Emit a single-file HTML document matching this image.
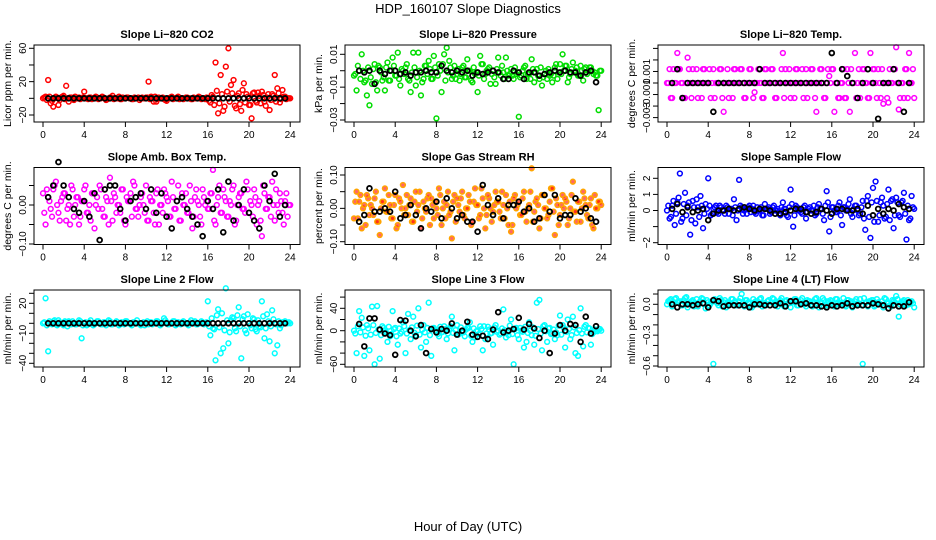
<!DOCTYPE html>
<html><head><meta charset="utf-8"><style>
html,body{margin:0;padding:0;background:#fff}
svg{display:block;font-family:"Liberation Sans",sans-serif}
</style></head><body>
<svg id="chart" width="936" height="540" viewBox="0 0 936 540">
<text x="468" y="13" text-anchor="middle" font-size="13">HDP_160107  Slope Diagnostics</text>
<text x="468" y="531" text-anchor="middle" font-size="13">Hour of Day (UTC)</text>
</svg>
<script>
// x categories: colored series every 0.25 h from 0; band series every 0.25 h from 0.125; black every 0.5 h from 0.5
const xTicks = [0,4,8,12,16,20,24];
const colorStep = 0.25, bandStart = 0.125, blackStart = 0.5, blackStep = 0.5;

const co2Color = [0,2,22,-6,-10,2,-8,1,3,15,-4,1,-2,0,1,0,8,0,1,-1,0,1,0,2,0,-1,1,3,0,0,-1,1,0,1,0,-1,0,1,0,0,1,20,2,-4,-4,1,0,-1,-3,0,2,0,1,-1,0,0,1,0,-1,0,0,1,0,-1,0,-5,2,43,-18,28,-15,38,60,16,22,-12,6,-15,18,5,-8,-24,7,-5,3,8,-4,1,-14,5,28,12,-5,10,2,0,0];
const co2Band = [1,-2,2,-3,0,1,-2,2,-1,0,1,-1,2,0,-1,1,0,-1,1,0,2,-1,0,1,-2,0,1,-1,0,2,-1,0,1,0,-1,1,0,-2,1,0,1,-1,0,2,-1,0,1,-2,0,1,-1,0,2,0,-1,1,0,-1,1,0,2,-1,0,1,-3,4,-8,9,-6,5,-10,8,-4,6,-9,3,-7,10,-5,2,-8,6,-3,7,-6,4,-9,5,-2,3,-4,6,-1,2,-1,0];
const co2Black = [0,0,0,0,0,0,0,0,0,0,0,0,0,0,0,0,0,0,0,0,0,0,0,0,0,0,0,0,0,0,0,0,0,0,0,0,0,0,0,0,0,0,0,0,0,0,0];
const presColor = [-3,-12,0,10,-7,-15,-21,-8,4,-12,2,-6,-12,5,-6,8,-3,11,-9,0,2,-5,-13,11,-9,11,-15,-5,3,6,-5,9,-29,4,-13,10,14,6,-5,3,-2,-6,2,-4,7,0,-7,-2,-13,9,4,-2,1,-8,0,-8,8,-3,-1,8,-3,1,-5,-2,-28,-3,2,-5,-2,7,-7,1,-5,-9,-2,-5,-3,-7,2,-5,4,10,3,-7,-2,5,0,-3,3,-6,2,0,2,-2,-3,-24,0];
const presBand = [-2,3,-5,0,-6,2,-4,1,-7,3,-1,-4,2,-6,0,3,-3,-5,1,-2,4,-6,-1,2,-4,0,-7,3,-2,1,-5,2,-3,0,4,-6,-1,2,-3,-5,1,-2,3,-4,0,-6,2,-1,-3,4,-5,0,2,-2,-4,1,-1,3,-5,0,-2,-3,2,-1,-4,0,3,-2,-5,1,-1,-3,2,-4,0,1,-2,-3,4,-1,-2,0,3,-4,1,-1,2,-3,0,1,-2,2,0,-1,-3,0];
const presBlack = [0,-1,0,-8,0,-2,0,0,-2,-1,-3,-1,-1,0,-1,-1,3,0,-1,0,-1,0,-3,-1,-2,-1,0,-1,-5,-5,0,-1,-5,-1,-1,-3,-2,-1,0,-1,0,-1,-1,-3,-1,0,-7];
const tempColor = [0,1.2,-1.3,0,2.6,1.2,0,-1.3,2.2,0,1.2,0,-1.3,0,1.2,0,0,-1.3,1.2,0,0,1.2,-2.5,0,-1.3,0,1.2,0,0,1.2,-1.3,0,1.2,0,-0.8,0,0,-1.3,1.2,0,0,1.2,-1.3,0,0,2.6,1.2,0,-1.3,0,1.2,0,0,-1.3,1.2,0,1.2,0,-2.5,0,1.2,-1.3,0,0.6,1.2,-2.5,0,-1.3,0,-1.3,1.2,-2.5,0,2.6,0,-1.3,1.2,0,-1.3,2.6,1.2,0,1.2,-1.3,-1.8,0,-1.7,0,1.2,3.1,-2.3,0,-1.3,1.2,2.6,0,-1.3];
const tempBand = [0,-1.3,1.2,0,1.2,0,-1.3,0,1.2,-1.3,0,1.2,0,-1.3,1.2,0,1.2,0,-1.3,0,1.2,-1.3,0,1.2,0,-1.3,1.2,0,1.2,0,-1.3,0,1.2,-1.3,0,1.2,0,-1.3,1.2,0,1.2,0,-1.3,0,1.2,-1.3,0,1.2,0,-1.3,1.2,0,1.2,0,-1.3,0,1.2,-1.3,0,1.2,0,-1.3,1.2,0,1.2,0,-1.3,0,1.2,-1.3,0,1.2,0,-1.3,1.2,0,1.2,0,-1.3,0,1.2,-1.3,0,1.2,0,-1.3,1.2,0,1.2,0,-1.3,0,1.2,-1.3,0,1.2];
const tempBlack = [0,1.2,-1.3,0,0,0,0,0,-2.5,0,0,0,0,0,0,0,0,1.2,0,0,0,0,0,0,0,0,0,0,0,0,0,2.6,0,1.2,0.6,0,-1.3,0,1.2,0,-3.1,0,0,1.2,0,-2.5,0];
const boxColor = [3,-5,2,-1,4,6,-2,1,3,-4,0,5,-3,2,-5,1,4,-2,0,3,-6,2,5,-1,-3,1,7,-4,2,0,-2,4,-5,1,3,6,-1,-3,2,0,5,-4,1,-2,3,-5,0,4,2,-3,6,-1,1,-4,3,0,-2,5,-6,2,1,-3,4,0,-1,3,9,-5,2,-2,4,1,-3,0,5,-4,2,3,-1,6,-2,0,4,-5,1,-8,3,-1,2,6,-4,0,3,-2,1,-3,0];
const boxBand = [-2,4,1,-3,5,0,-4,2,3,-1,-5,4,0,2,-3,1,5,-2,-4,3,0,-1,4,-3,2,-5,1,3,-2,0,4,-4,2,1,-3,5,-1,0,3,-2,-4,2,1,-5,4,0,-2,3,1,-3,2,-1,5,-4,0,3,-2,1,-3,4,0,-5,2,1,-1,3,-4,0,5,-2,2,-3,1,4,-5,0,3,-1,-2,4,1,-3,2,0,-4,5,-1,2,-3,0,4,-2,1,-5,3,0];
const boxBlack = [2,5,11,5,2,-1,-2,1,-3,3,-9,4,5,5,-1,-4,1,2,3,-1,4,-2,3,-3,-6,1,2,-1,-3,-5,-8,1,-1,4,-7,6,-4,0,4,-2,-4,-6,5,1,8,-3,0];
const rhColor = [-3,5,2,-6,1,4,-2,0,3,-4,-8,2,6,-1,1,-3,4,-5,2,7,0,-2,3,-4,5,1,-6,2,-1,4,3,-3,0,6,-5,2,1,-2,-9,4,3,-1,5,-3,0,2,-4,6,1,-2,3,-6,4,0,-1,5,2,-3,1,4,-5,-7,3,0,2,-2,5,-4,1,12,-1,3,-6,4,0,-3,2,6,-8,1,-2,4,3,-5,0,8,-1,2,-4,5,1,-3,3,-6,0,2,1];
const rhBand = [2,-3,4,0,-5,3,1,-2,5,-4,0,2,-1,4,-3,1,-6,3,0,-2,4,1,-4,2,-1,5,-3,0,3,-5,1,2,-2,4,0,-3,5,-1,2,-4,1,3,-2,0,4,-5,2,1,-3,6,0,-2,3,-4,1,2,-1,5,-3,0,2,-5,4,1,-2,3,-1,0,5,-4,2,1,-3,4,0,-2,6,-1,3,-5,1,0,2,-3,4,-1,-4,2,0,3,-2,1,-5,4,0,2];
const rhBlack = [-4,-2,6,-1,-1,0,-1,5,-3,-2,1,-2,-6,0,-1,2,-3,3,0,-3,-2,-4,-4,-7,7,1,-2,3,-3,1,1,2,-1,0,-4,-3,4,-1,4,-3,-2,-2,3,-1,0,-3,-4];
const flowColor = [0,-0.5,0.3,-0.9,0.5,2.3,-0.5,1.1,0.3,-1.5,0.6,-0.8,0.2,0.9,-1.1,0.4,2.0,-0.3,0.1,0.3,-0.2,0.2,0,0.3,-0.2,0.1,0.7,-0.6,1.9,0.2,0,-0.2,0.3,0.1,-0.1,0.2,0,-0.3,0.4,0.1,-0.2,0.2,0,0.1,-0.3,0.5,0.1,-0.4,1.3,-1.0,0.3,0,-0.1,0.2,-0.5,0.1,0,0.3,-0.2,0.4,0.1,-0.6,1.2,-1.3,0.2,0,-0.1,0.5,-0.9,0.2,0.1,0.7,-0.4,0.3,0,-0.2,0.6,-1.2,0.9,-1.7,1.4,1.8,-0.7,0.5,0.3,-0.4,1.3,0.6,-1.1,0.8,-0.3,0.5,1.1,-1.8,-0.6,0.9,0.1];
const flowBand = [0.3,-0.4,0.6,-0.2,0.8,-0.7,0.4,-0.3,0.5,-0.6,0.2,0.7,-0.4,0.3,-0.2,0.1,0.3,-0.2,0.2,-0.1,0.3,0,-0.2,0.2,0.1,-0.3,0.2,0,0.3,-0.2,0.1,0.2,-0.1,0.3,-0.2,0,0.2,-0.3,0.1,0.2,-0.1,0.3,0,-0.2,0.2,0.1,-0.3,0.2,0.4,-0.3,0.2,0,-0.2,0.3,-0.1,0.2,0,-0.3,0.2,0.1,-0.2,0.3,0.5,-0.4,0.2,-0.1,0.3,-0.3,0.2,0,0.4,-0.2,0.1,0.3,-0.3,0.2,-0.5,0.6,-0.4,0.5,-0.7,0.6,-0.3,0.8,-0.5,0.4,-0.6,0.7,-0.3,0.5,-0.4,0.6,-0.2,0.3,-0.5,0.2];
const flowBlack = [0.1,0.4,-0.1,0.2,-0.1,0,0.1,-0.6,-0.2,0,0,0.1,0,0.1,0.2,0.1,0,0.1,0.1,0,-0.2,-0.2,-0.1,0,0.1,0.1,-0.1,-0.2,-0.1,0.1,0,-0.2,0.1,0.1,0,0,0.1,-0.2,0.3,-0.3,0.1,-0.2,0.1,0,0.4,0.2,0.1];
const line2Color = [0,25,-28,0,2,-1,3,0,-2,1,2,-1,0,-1,3,-15,0,-2,1,0,-1,2,0,-1,1,0,2,-1,0,1,-1,0,2,0,-1,1,0,0,-2,1,0,-1,1,0,2,0,-1,5,1,-1,0,2,-1,0,1,0,-1,1,0,2,-1,0,1,0,22,-12,-5,-37,14,-30,-25,35,-20,3,5,-8,16,-35,7,-10,0,-5,4,-8,-3,22,-15,9,-18,13,-30,-22,-5,1,2,0,0];
const line2Band = [1,-2,2,-1,3,-2,1,-1,2,-3,1,2,-1,0,2,-2,1,-1,3,-2,0,2,-1,1,-2,3,-1,0,2,-2,1,-1,2,0,-2,1,3,-1,0,-2,2,1,-1,0,2,-2,1,3,-1,0,2,-2,1,-1,2,0,-2,3,1,-1,0,2,-1,1,-3,5,-6,8,-4,10,-7,3,-9,6,-5,8,-3,4,-7,9,-2,5,-6,3,-4,7,-5,2,-3,4,-1,2,-2,1,0,1];
const line2Black = [0,0,0,0,0,0,0,0,0,0,0,0,0,0,0,0,0,0,0,0,0,0,0,0,0,0,0,0,0,0,0,0,0,0,0,0,0,0,0,0,0,0,0,0,0,0,0];
const line3Color = [0,-40,35,23,-45,10,-35,43,-60,44,-50,8,0,-20,-10,35,5,-25,-5,15,-40,30,-15,25,-8,40,-30,10,-20,50,-45,5,0,-10,-3,8,-15,3,25,-35,10,-5,0,-10,5,15,-20,-12,0,8,-35,-15,7,-5,-25,10,0,-5,38,-12,-8,20,-60,5,-15,0,-30,-20,15,-8,-25,50,55,-35,10,-20,5,-5,-15,-8,27,10,-30,20,-15,25,-40,-45,40,-28,10,5,-25,-3,0,3,0];
const line3Band = [-5,8,-3,6,-9,4,-7,10,-4,2,-8,5,-3,7,-6,3,-10,4,-2,8,-5,1,6,-4,9,-7,2,-3,5,-8,4,0,-6,7,-2,3,-5,8,-4,1,-7,6,-3,2,5,-9,4,-1,-6,3,8,-5,2,-4,6,-2,-7,4,1,-3,9,-6,3,-8,5,-2,7,-4,0,6,-9,3,-5,8,-1,4,-6,2,-3,9,-7,5,-2,3,-8,6,-4,1,-5,7,-3,4,-6,2,-1,3];
const line3Black = [12,-28,22,22,2,-5,-8,-43,19,18,0,-10,10,-40,3,-3,3,0,13,-7,0,16,-7,-11,-9,-15,2,33,-3,0,3,23,2,12,4,-13,0,-40,-5,10,0,12,10,-20,25,-5,8];
const line4Color = [0,4,-2,5,2,3,-1,6,-3,2,4,1,-2,3,5,-4,2,1,-58,3,-1,4,2,-3,1,5,2,-1,3,10,-2,4,1,-3,2,0,5,-2,1,3,-1,6,2,-2,4,0,3,1,-3,2,5,-1,4,1,-2,3,0,2,6,-3,1,4,-1,2,3,-2,5,0,1,-1,4,2,-3,3,0,5,-58,1,-2,3,4,-1,2,0,-3,5,1,-2,3,8,-12,2,4,-1,0,3,-3];
const line4Band = [3,5,0,6,2,-1,4,7,1,3,-2,5,2,6,0,4,-1,3,5,1,6,-2,4,2,0,5,3,-1,6,1,4,2,-2,5,3,0,6,1,-1,4,2,5,0,3,6,-2,4,1,3,5,-1,2,6,0,4,3,-2,5,1,2,6,0,3,4,-1,5,2,1,6,-2,4,3,0,5,1,-1,6,2,3,4,-2,5,0,3,6,1,-1,4,2,5,0,3,-1,4,2,1];
const line4Black = [0,-3,0,0,-1,0,1,-3,4,3,-2,-1,-1,-1,-1,-3,0,0,-1,-1,-1,1,-2,3,3,0,1,-1,-1,-2,-3,-1,-2,-1,1,-2,-1,-1,-1,1,0,-1,-4,-1,-2,-2,2];

const co2Ticks=[60,40,20,0,-20], co2Labels=["60","","20","","\u221220"];
const presTicks=[10,0,-10,-20,-30], presLabels=["0.01","","\u22120.01","","\u22120.03"];
const tempTicks=[3,2,1,0,-1,-2,-3], tempLabels=["","","0.001","","\u22120.001","","\u22120.003"];
const boxTicks=[5,0,-5,-10], boxLabels=["","0.00","","\u22120.10"];
const rhTicks=[10,5,0,-5,-10], rhLabels=["0.10","","0.00","","\u22120.10"];
const flowTicks=[2,1,0,-1,-2], flowLabels=["2","1","0","","\u22122"];
const line2Ticks=[30,20,10,0,-10,-20,-30,-40], line2Labels=["","20","","","\u221210","","","\u221240"];
const line3Ticks=[60,40,20,0,-20,-40,-60], line3Labels=["","40","","0","","","\u221260"];
const line4Ticks=[10,0,-10,-20,-30,-40,-50,-60], line4Labels=["","0.0","","","\u22120.3","","","\u22120.6"];

const panels = [
 {name:"co2",title:"Slope Li\u2212820 CO2",ylab:"Licor ppm per min.",col:0,row:0,v1:60,p1:48.3,v2:-20,p2:115,ticks:co2Ticks,labels:co2Labels,c:co2Color,band:co2Band,b:co2Black,color:"#ff0000"},
 {name:"pressure",title:"Slope Li\u2212820 Pressure",ylab:"kPa per min.",col:1,row:0,v1:10,p1:54.3,v2:-30,p2:120,ticks:presTicks,labels:presLabels,c:presColor,band:presBand,b:presBlack,color:"#00dd00"},
 {name:"temp",title:"Slope Li\u2212820 Temp.",ylab:"degrees C per min.",col:2,row:0,v1:0,p1:83,v2:-3,p2:117.6,ticks:tempTicks,labels:tempLabels,c:tempColor,band:tempBand,b:tempBlack,color:"#ff00ff"},
 {name:"amb-box-temp",title:"Slope Amb. Box Temp.",ylab:"degrees C per min.",col:0,row:1,v1:0,p1:205,v2:-10,p2:244,ticks:boxTicks,labels:boxLabels,c:boxColor,band:boxBand,b:boxBlack,color:"#ff00ff"},
 {name:"gas-stream-rh",title:"Slope Gas Stream RH",ylab:"percent per min.",col:1,row:1,v1:10,p1:175,v2:-10,p2:241.7,ticks:rhTicks,labels:rhLabels,c:rhColor,band:rhBand,b:rhBlack,color:"#ffa500",inner:"#ff0000"},
 {name:"sample-flow",title:"Slope Sample Flow",ylab:"ml/min per min.",col:2,row:1,v1:2,p1:178.3,v2:-2,p2:242.7,ticks:flowTicks,labels:flowLabels,c:flowColor,band:flowBand,b:flowBlack,color:"#0000ff"},
 {name:"line2-flow",title:"Slope Line 2 Flow",ylab:"ml/min per min.",col:0,row:2,v1:20,p1:303.3,v2:-40,p2:363.3,ticks:line2Ticks,labels:line2Labels,c:line2Color,band:line2Band,b:line2Black,color:"#00ffff"},
 {name:"line3-flow",title:"Slope Line 3 Flow",ylab:"ml/min per min.",col:1,row:2,v1:40,p1:308.3,v2:-60,p2:364.3,ticks:line3Ticks,labels:line3Labels,c:line3Color,band:line3Band,b:line3Black,color:"#00ffff"},
 {name:"line4-flow",title:"Slope Line 4 (LT) Flow",ylab:"ml/min per min.",col:2,row:2,v1:0,p1:304.3,v2:-60,p2:366,ticks:line4Ticks,labels:line4Labels,c:line4Color,band:line4Band,b:line4Black,color:"#00ffff"}
];

const NS="http://www.w3.org/2000/svg";
const svg=document.getElementById("chart");
function mk(tag,attrs,parent){const e=document.createElementNS(NS,tag);for(const k in attrs)e.setAttribute(k,attrs[k]);(parent||svg).appendChild(e);return e;}
const colLeft=[34,345,658], rowTop=[45,167.5,290], boxW=266, boxH=77;

panels.forEach(p=>{
  const L=colLeft[p.col], T=rowTop[p.row], B=T+boxH;
  const xs=t=>L+9+t*10.3;
  const ys=v=>p.p1+(v-p.v1)*(p.p2-p.p1)/(p.v2-p.v1);
  const g=mk("g",{});
  
  
  const title=mk("text",{x:L+boxW/2,y:T-7,"text-anchor":"middle","font-size":"11","font-weight":"bold"},g);
  title.textContent=p.title;
  
  
  const yl=mk("text",{transform:`translate(${L-23},${T+boxH/2}) rotate(-90)`,"text-anchor":"middle","font-size":"10.5"},g);
  yl.textContent=p.ylab;
  
  
  const pts=mk("g",{},g);
  
  
  const drawColored=(v,t)=>{
    const c=mk("circle",{cx:xs(t),cy:ys(v),r:2.4,fill:p.inner?p.inner:"none","fill-opacity":p.inner?0.6:1,stroke:p.color,"stroke-width":1.5},pts);
    
    
  };
  p.band.forEach((v,i)=>drawColored(v,bandStart+i*colorStep));
  p.c.forEach((v,i)=>drawColored(v,i*colorStep));
  p.b.forEach((v,i)=>{
    const c=mk("circle",{cx:xs(blackStart+i*blackStep),cy:ys(v),r:2.4,fill:"none",stroke:"#000","stroke-width":1.8},pts);
    
    
  });
  const box=mk("rect",{x:L,y:T,width:boxW,height:boxH,fill:"none",stroke:"#000","stroke-width":1},g);
  
  
  xTicks.forEach(t=>{
    mk("line",{x1:xs(t),x2:xs(t),y1:B,y2:B+5,stroke:"#000"},g);
    const tx=mk("text",{x:xs(t),y:B+16,"text-anchor":"middle","font-size":"10"},g);
    tx.textContent=t;
    
    
  });
  p.ticks.forEach((v,i)=>{
    const y=ys(v);
    mk("line",{x1:L-5,x2:L,y1:y,y2:y,stroke:"#000"},g);
    if(p.labels[i]){
      const tl=mk("text",{transform:`translate(${L-8},${y}) rotate(-90)`,"text-anchor":"middle","font-size":"10"},g);
      tl.textContent=p.labels[i];
      
      
    }
  });
});
</script>
</body></html>
